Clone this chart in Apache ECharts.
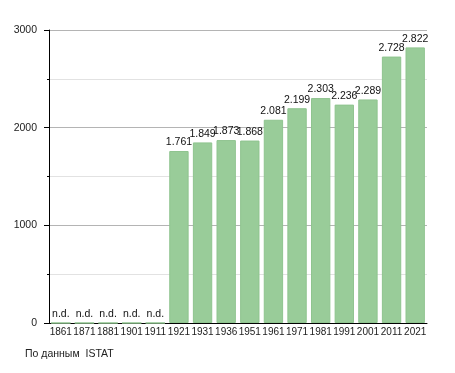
<!DOCTYPE html>
<html><head><meta charset="utf-8">
<script src="https://cdn.jsdelivr.net/npm/echarts@6/dist/echarts.min.js"></script>
<style>html,body{margin:0;padding:0;background:#fff}#c{width:455px;height:373px}</style>
</head><body><div id="c"></div>
<script>
const years = ['1861','1871','1881','1901','1911','1921','1931','1936','1951','1961','1971','1981','1991','2001','2011','2021'];
const population = [0,0,0,0,0,1761,1849,1873,1868,2081,2199,2303,2236,2289,2728,2822];
const yTicks = [0,1000,2000,3000];
const source = 'По данным  ISTAT';

function fmt(v){ return v === 0 ? 'n.d.' : String(v).replace(/\B(?=(\d{3})+(?!\d))/g,'.'); }

const chart = echarts.init(document.getElementById('c'), null, {renderer:'canvas'});
chart.setOption({
  animation:false,
  textStyle:{fontFamily:'Liberation Sans, Arial, sans-serif'},
  grid:{left:49, right:28, top:30, bottom:50},
  graphic:[{type:'text', left:25, top:349, style:{text:source, fontSize:10.5, fill:'#222', fontFamily:'Liberation Sans, Arial, sans-serif'}}],
  xAxis:{
    type:'category', data:years, boundaryGap:true,
    axisLine:{lineStyle:{color:'#000', width:1}},
    axisTick:{show:false},
    axisLabel:{color:'#222', fontSize:10, margin:4, interval:0, hideOverlap:false,
      width:40, overflow:'none'}
  },
  yAxis:{
    type:'value', min:0, max:3000, interval:1000,
    axisLine:{show:true, lineStyle:{color:'#000'}},
    axisTick:{show:true, length:5, lineStyle:{color:'#000'}},
    minorTick:{show:true, splitNumber:2, length:2, lineStyle:{color:'#000'}},
    splitLine:{show:true, lineStyle:{color:'#b4b4b4'}},
    minorSplitLine:{show:true, lineStyle:{color:'#e2e2e2'}},
    axisLabel:{color:'#222', fontSize:10.5, margin:12,
      formatter:v => yTicks.includes(v) ? String(v) : ''}
  },
  series:[{
    type:'bar', data:population, barCategoryGap:'18%',
    itemStyle:{color:'#99cc99', borderColor:'#8fc48f', borderWidth:1},
    label:{show:true, position:'top', distance:3, color:'#111', fontSize:10.5,
      formatter:p => fmt(p.value)}
  }]
});
</script></body></html>
